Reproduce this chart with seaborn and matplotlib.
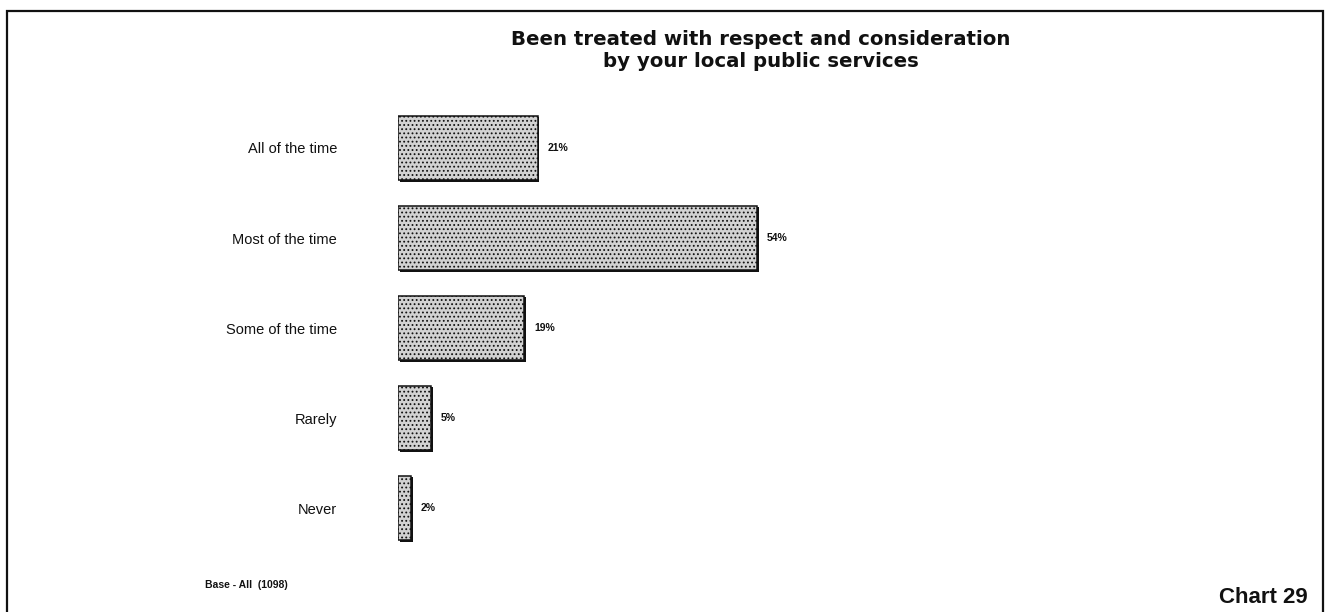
import matplotlib
matplotlib.use("Agg")
import matplotlib.pyplot as plt
import matplotlib.patheffects as pe
from matplotlib.patches import Rectangle
import seaborn as sns
import pandas as pd

# Survey responses
categories = ["All of the time", "Most of the time", "Some of the time", "Rarely", "Never"]
percentages = [21, 54, 19, 5, 2]
title_lines = ["Been treated with respect and consideration", "by your local public services"]
base_note = "Base - All  (1098)"
chart_tag = "Chart 29"

df = pd.DataFrame({"category": categories, "pct": percentages})

sns.set_theme(style="white")
plt.rcParams["font.family"] = ["Liberation Sans", "DejaVu Sans"]
plt.rcParams["hatch.color"] = "#9a9a9a"
plt.rcParams["hatch.linewidth"] = 0.8

fig = plt.figure(figsize=(13.28, 6.12), dpi=100)
ax = fig.add_axes([0.2997, 0.0964, 0.5008, 0.7353])

sns.barplot(data=df, x="pct", y="category", orient="h", ax=ax,
            color="#d2d2d2", edgecolor="#111111", linewidth=1.1, width=0.72,
            saturation=1)

for bar in ax.patches:
    bar.set_hatch("....")
    bar.set_path_effects([
        pe.SimplePatchShadow(offset=(1.3, -1.3), shadow_rgbFace="#111111", alpha=1),
        pe.Normal(),
    ])

ax.set_xlim(0, 100)
ax.set_ylim(4.5, -0.5)
ax.set_xlabel("")
ax.set_ylabel("")
ax.set_xticks([])
ax.tick_params(axis="y", length=0, pad=44, labelsize=10.5, labelcolor="#111111")
for s in ax.spines.values():
    s.set_visible(False)

for container in ax.containers:
    ax.bar_label(container, fmt="%d%%", padding=7, fontsize=7.5,
                 fontweight="bold", color="#111111")

title_font = dict(ha="center", va="center", fontsize=14.2, fontweight="bold",
                  color="#111111", family=["DejaVu Sans"])
fig.text(0.573, 0.936, title_lines[0], **title_font)
fig.text(0.573, 0.900, title_lines[1], **title_font)

fig.text(0.154, 0.044, base_note, ha="left", va="center",
         fontsize=7.5, fontweight="bold", color="#111111")
fig.text(0.985, 0.024, chart_tag, ha="right", va="center",
         fontsize=16, fontweight="bold", color="#111111")

# Outer frame around the chart
frame = Rectangle((7 / 1328, -0.02), (1323 - 7) / 1328, 1 - 11 / 612 + 0.02,
                  transform=fig.transFigure, fill=False,
                  edgecolor="#111111", linewidth=1.6)
fig.add_artist(frame)

fig.savefig("out.png", dpi=100, facecolor="white")
